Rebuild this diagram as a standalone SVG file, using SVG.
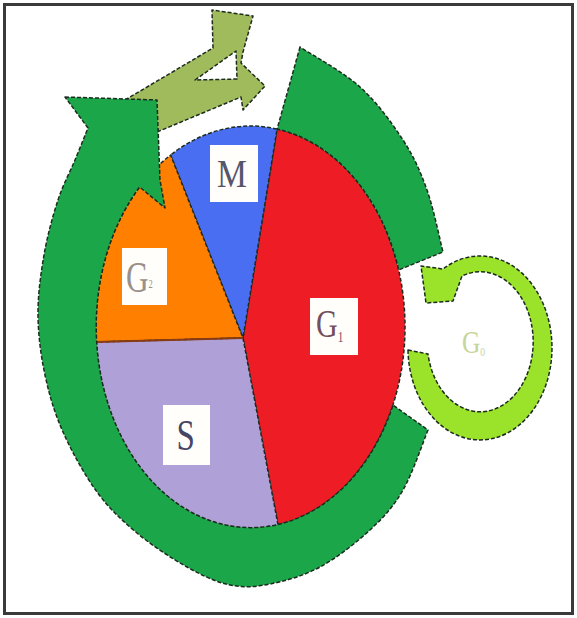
<svg xmlns="http://www.w3.org/2000/svg" width="577" height="618" viewBox="0 0 577 618">
<style>
.dash{stroke:#1d2b1f;stroke-width:1.5;stroke-dasharray:4 2;stroke-linejoin:round}
.lbl{font-family:"Liberation Serif","Times New Roman",serif}
.box{fill:#fffefb}
</style>
<rect x="0" y="0" width="577" height="618" fill="#ffffff"/>
<rect id="frame" x="4.5" y="4.5" width="568" height="609" fill="none" stroke="#3a3a3a" stroke-width="3"/>

<g id="node-G1">
<path class="dash" fill="#ee1c25" d="M 277.1,129 A 154.5 201 0 0 1 278,524.8 L 243,338 Z"/>
<rect class="box" x="310" y="298" width="48" height="57"/>
<text class="lbl" transform="translate(316,337) scale(0.75,1)" font-size="40" fill="#74505f">G<tspan font-size="15" dy="5">1</tspan></text>
</g>
<g id="node-M">
<path class="dash" fill="#4a6ef2" d="M 243,338 L 170.6,155 A 154.5 201 0 0 1 277.1,129 Z"/>
<rect class="box" x="210" y="145" width="48" height="57"/>
<text class="lbl" transform="translate(217,187) scale(0.84,1)" font-size="40" fill="#55566b">M</text>
</g>
<g id="node-G2">
<path class="dash" fill="#ff8000" d="M 243,338 L 96.4,342 A 154.5 201 0 0 1 170.6,155 Z"/>
<rect class="box" x="122" y="248" width="45" height="57"/>
<text class="lbl" transform="translate(126,292) scale(0.71,1)" font-size="44" fill="#9b9089">G<tspan font-size="12" dy="-4">2</tspan></text>
</g>
<g id="node-S">
<path class="dash" fill="#afa0d7" d="M 243,338 L 278,524.8 A 154.5 201 0 0 1 96.4,342 Z"/>
<line x1="96.4" y1="342" x2="243" y2="338" stroke="#8a3b14" stroke-width="2"/>
<rect class="box" x="163" y="405" width="47" height="60"/>
<text class="lbl" transform="translate(176.5,450) scale(0.75,1)" font-size="44" fill="#464667">S</text>
</g>
<g id="node-G0">
<text class="lbl" transform="translate(462,353) scale(0.82,1)" font-size="31" fill="#c5d59c">G<tspan font-size="12" dy="3">0</tspan></text>
</g>

<g id="connectors">
<path class="dash" fill="#9fbb5c" fill-rule="evenodd" d="M 125,100 L 213,48 L 212,10 L 253,16 L 243,52 L 241,63 L 265,86 L 243,110 L 241,97 L 157,132 Z M 195,80 L 236,51 L 237,79 Z"/>
<path class="dash" fill="#1ca64a" d="M 65,97 L 157,100 L 160,180 L 165,208 L 139.6,187 A 154.5 201 0 1 0 393,405 L 428,430 C 423.8,440 412.7,473.3 403,490 C 393.3,506.7 383.8,517.2 370,530 C 356.2,542.8 336.7,558 320,567 C 303.3,576 285,581 270,584 C 255,587 243.8,587.8 230,585 C 216.2,582.2 202.5,575.7 187,567 C 171.5,558.3 152,545.5 137,533 C 122,520.5 109.3,508.8 97,492 C 84.7,475.2 71.7,451.5 63,432 C 54.3,412.5 49.2,394.5 45,375 C 40.8,355.5 38.2,335 38,315 C 37.8,295 40.7,274.2 44,255 C 47.3,235.8 52.8,215.8 58,200 C 63.2,184.2 70,172 75,160 C 80,148 85.8,133.3 88,128 Z"/>
<path class="dash" fill="#1ca64a" d="M 300,47 L 277.1,129 A 154.5 201 0 0 1 398.7,270 L 443,252 C 440.3,241.7 433.7,208.7 427,190 C 420.3,171.3 414.2,157.2 403,140 C 391.8,122.8 377.2,102.5 360,87 C 342.8,71.5 310,53.7 300,47 Z"/>
<path class="dash" fill="#9be32b" d="M 408,350 A 72 92 0 1 0 443,269 L 421,266 L 426,303 L 453,301 L 462,276 A 53 70 0 1 1 428,354 Z"/>
</g>
</svg>
